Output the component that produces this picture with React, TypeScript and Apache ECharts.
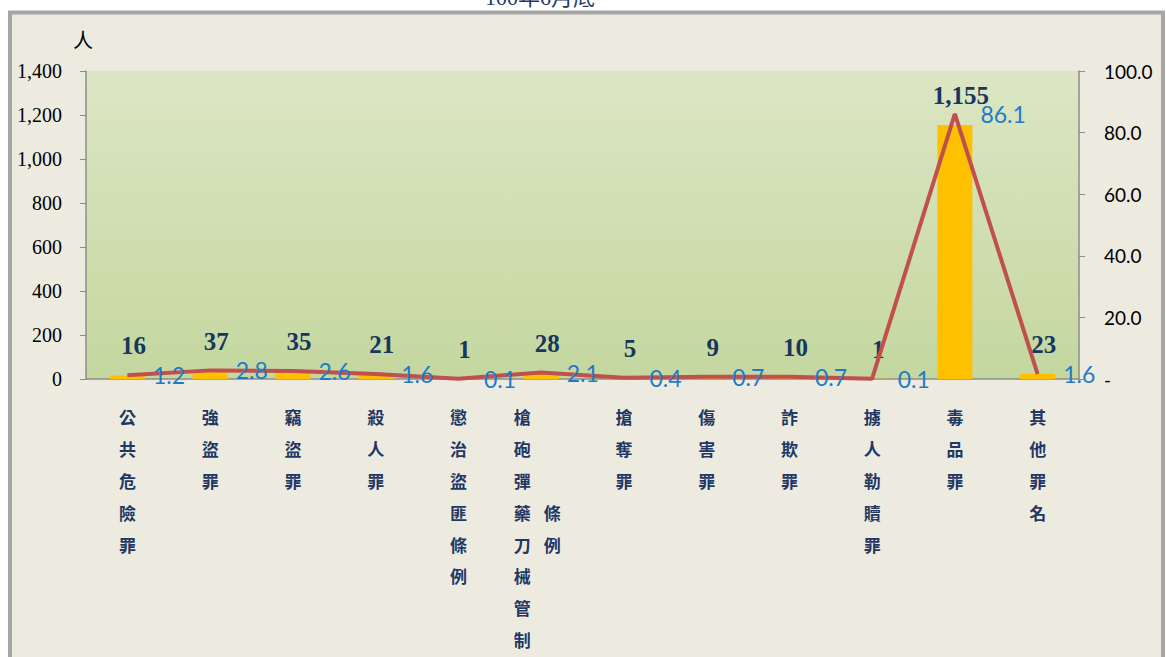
import React, { useEffect, useRef } from "react";
import * as echarts from "echarts";

const categories = [
  "公共危險罪",
  "強盜罪",
  "竊盜罪",
  "殺人罪",
  "懲治盜匪條例",
  "槍砲彈藥刀械管制條例",
  "搶奪罪",
  "傷害罪",
  "詐欺罪",
  "擄人勒贖罪",
  "毒品罪",
  "其他罪名",
];
const persons = [16, 37, 35, 21, 1, 28, 5, 9, 10, 1, 1155, 23];
const percents = [1.2, 2.8, 2.6, 1.6, 0.1, 2.1, 0.4, 0.7, 0.7, 0.1, 86.1, 1.6];
const leftTicks = { min: 0, max: 1400, interval: 200 };
const rightTicks = { min: 0, max: 100, interval: 20 };
const titleText = "100年6月底";
const unitText = "人";

const MAX_COL = 8;

function verticalLabel(v: string): string {
  const chars = Array.from(v);
  if (chars.length <= MAX_COL) {
    return chars.map((c) => `{a|${c}}`).join("\n");
  }
  const col1 = chars.slice(0, MAX_COL);
  const col2 = chars.slice(MAX_COL);
  const off = Math.floor((MAX_COL - col2.length) / 2);
  return col1
    .map((c, i) => {
      const j = i - off;
      const c2 = j >= 0 && j < col2.length ? col2[j] : "　";
      return `{w|${c}}{b|${c2}}`;
    })
    .join("\n");
}

export default function App() {
  const ref = useRef<HTMLDivElement>(null);
  useEffect(() => {
    if (!ref.current) return;
    const chart = echarts.init(ref.current, undefined, { renderer: "svg" });
    const labelColor = "#1F3864";
    const cjk = "'Noto Sans CJK TC', 'Noto Sans CJK SC', sans-serif";
    const charStyle = {
      fontSize: 17,
      fontFamily: cjk,
      fontWeight: "bold",
      color: labelColor,
      lineHeight: 31.8,
    };
    chart.setOption({
      animation: false,
      backgroundColor: "#ffffff",
      graphic: [
        {
          type: "rect",
          z: -10,
          shape: { x: 10, y: 12.5, width: 1153, height: 700 },
          style: { fill: "#EDEBE0", stroke: "#A6A6A6", lineWidth: 4 },
        },
        {
          type: "text",
          z: 10,
          x: 540,
          y: 8,
          style: {
            text: titleText,
            fill: "#1F3864",
            font: "22px 'Liberation Serif', 'Noto Sans CJK TC', serif",
            textAlign: "center",
            textVerticalAlign: "bottom",
          },
        },
        {
          type: "text",
          z: 10,
          x: 83,
          y: 39,
          style: {
            text: unitText,
            fill: "#000000",
            font: "20px 'Noto Sans CJK TC', serif",
            textAlign: "center",
            textVerticalAlign: "middle",
          },
        },
      ],
      grid: {
        left: 86,
        right: 87,
        top: 71,
        bottom: 278,
        show: true,
        borderWidth: 0,
        outerBoundsMode: "none",
        containLabel: false,
        backgroundColor: new echarts.graphic.LinearGradient(0, 0, 0, 1, [
          { offset: 0, color: "#DCE6C4" },
          { offset: 1, color: "#C4D79F" },
        ]),
      },
      xAxis: {
        type: "category",
        data: categories,
        axisTick: { show: false },
        axisLine: { lineStyle: { color: "#8C8C8C", width: 1.5 } },
        axisLabel: {
          interval: 0,
          margin: 22,
          formatter: (v: string) => verticalLabel(v),
          ...charStyle,
          rich: {
            a: { ...charStyle },
            w: { ...charStyle, width: 30, align: "left" },
            b: { ...charStyle, width: 25, align: "left" },
          },
        },
      },
      yAxis: [
        {
          type: "value",
          ...leftTicks,
          splitLine: { show: false },
          axisLine: { show: true, lineStyle: { color: "#8C8C8C", width: 1.5 } },
          axisTick: { show: true, length: 6, lineStyle: { color: "#8C8C8C" } },
          axisLabel: {
            margin: 24,
            fontSize: 20,
            fontFamily: "'Liberation Serif', 'Times New Roman', serif",
            color: "#000000",
            formatter: (v: number) => v.toLocaleString("en-US"),
          },
        },
        {
          type: "value",
          ...rightTicks,
          splitLine: { show: false },
          axisLine: { show: true, lineStyle: { color: "#8C8C8C", width: 1.5 } },
          axisTick: { show: true, length: 6, lineStyle: { color: "#8C8C8C" } },
          axisLabel: {
            margin: 25,
            fontSize: 19,
            fontFamily: "Lato, 'Open Sans', sans-serif",
            color: "#000000",
            formatter: (v: number) => (v === 0 ? "-" : v.toFixed(1)),
          },
        },
      ],
      series: [
        {
          type: "bar",
          yAxisIndex: 0,
          data: persons,
          barWidth: 35,
          itemStyle: { color: "#FFC000" },
          z: 2,
          label: {
            show: true,
            position: "top",
            distance: 17,
            offset: [6, 0],
            fontSize: 25,
            fontWeight: "bold",
            fontFamily: "'Liberation Serif', 'Times New Roman', serif",
            color: "#17375E",
            formatter: (p: any) => Number(p.value).toLocaleString("en-US"),
          },
        },
        {
          type: "line",
          yAxisIndex: 1,
          data: percents,
          smooth: false,
          showSymbol: true,
          symbol: "circle",
          symbolSize: 1,
          itemStyle: { color: "rgba(192,80,77,0)" },
          z: 3,
          lineStyle: { color: "#C0504D", width: 4 },
          labelLayout: { hideOverlap: false },
          label: {
            show: true,
            position: "right",
            distance: 25,
            offset: [0, 4],
            fontSize: 23,
            fontFamily: "Lato, 'Open Sans', sans-serif",
            color: "#1F7BC8",
            formatter: (p: any) => Number(p.value).toFixed(1),
          },
        },
      ],
    });
    return () => chart.dispose();
  }, []);
  return (
    <div
      ref={ref}
      style={{ position: "absolute", left: 0, top: 0, width: 1166, height: 657 }}
    />
  );
}
